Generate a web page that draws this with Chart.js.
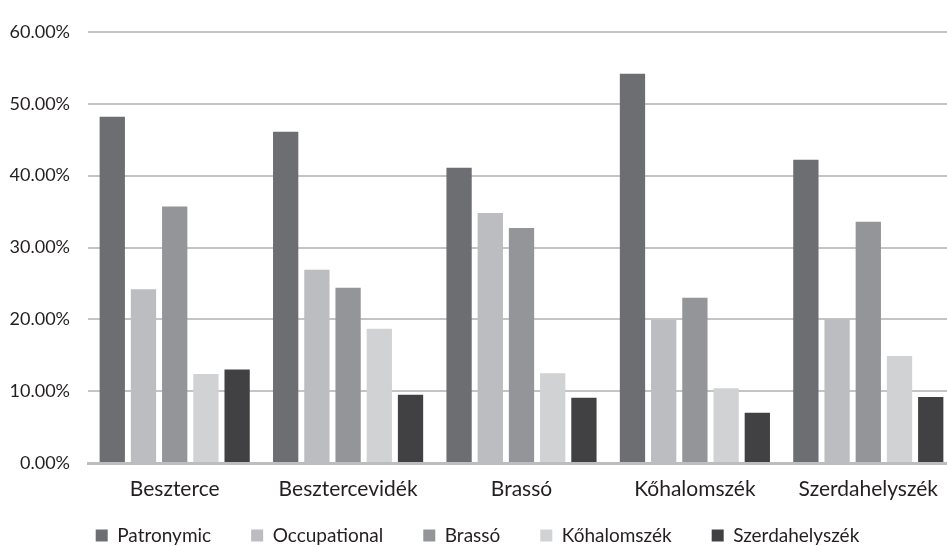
<!DOCTYPE html>
<html>
<head>
<meta charset="utf-8">
<script src="https://cdn.jsdelivr.net/npm/chart.js@4"></script>
<style>
  html, body { margin: 0; padding: 0; background: #fff; overflow: hidden; }
  .wrap { position: relative; width: 960px; height: 546px; }
</style>
</head>
<body>
<div class="wrap"><canvas id="surnameChart"></canvas></div>
<script>
const categories = ["Beszterce", "Besztercevidék", "Brassó", "Kőhalomszék", "Szerdahelyszék"];
const patronymic = [48.2, 46.1, 41.1, 54.2, 42.2];
const occupational = [24.2, 26.9, 34.8, 19.9, 20.0];
const brasso = [35.7, 24.4, 32.7, 23.0, 33.6];
const kohalomszek = [12.4, 18.7, 12.5, 10.4, 14.9];
const szerdahelyszek = [13.0, 9.5, 9.1, 7.0, 9.2];
const yMin = 0, yMax = 60, yStep = 10;

Chart.defaults.font.family = 'Lato';
Chart.defaults.color = '#231f20';

// legend: wide gaps between items, but keep it short and near the bottom
const legendGap = 40;
const legendHeight = 44;
const legendItemTop = 24;
const legendFit = {
    id: 'legendFit',
    afterInit(chart) {
        const legend = chart.legend;
        const fit = legend.fit;
        legend.fit = function() {
            fit.call(this);
            this.height = legendHeight;
        };
        const draw = legend.draw;
        legend.draw = function() {
            const top = this.top;
            this.top = top - (legendGap - legendItemTop);
            draw.call(this);
            this.top = top;
        };
    }
};

const ctx = document.getElementById('surnameChart').getContext('2d');
new Chart(ctx, {
    type: 'bar',
    data: {
        labels: categories,
        datasets: [
            { label: "Patronymic", data: patronymic, backgroundColor: "#6d6e71" },
            { label: "Occupational", data: occupational, backgroundColor: "#bcbdc0" },
            { label: "Brassó", data: brasso, backgroundColor: "#939598" },
            { label: "Kőhalomszék", data: kohalomszek, backgroundColor: "#d1d2d4" },
            { label: "Szerdahelyszék", data: szerdahelyszek, backgroundColor: "#414042" }
        ]
    },
    options: {
        responsive: true,
        maintainAspectRatio: false,
        animation: false,
        categoryPercentage: 0.9,
        barPercentage: 0.81,
        layout: { padding: { top: 32, right: 5, left: 0, bottom: 0 } },
        plugins: {
            tooltip: { enabled: false },
            legend: {
                position: 'bottom',
                labels: {
                    boxWidth: 12,
                    boxHeight: 12,
                    padding: legendGap,
                    font: { size: 19 }
                }
            }
        },
        scales: {
            y: {
                min: yMin, max: yMax,
                ticks: {
                    stepSize: yStep,
                    padding: 18,
                    font: { size: 18 },
                    callback: v => v.toFixed(2) + '%'
                },
                grid: { color: '#c4c4c7', lineWidth: 2, drawTicks: false },
                border: { display: false },
                afterFit: scale => { scale.width = 88; }
            },
            x: {
                grid: { display: false, drawTicks: false },
                border: { color: '#bdbdc0', width: 3 },
                ticks: { padding: 14, font: { size: 21 } },
                afterFit: scale => { scale.height = 39; }
            }
        }
    },
    plugins: [legendFit]
});
</script>
</body>
</html>
